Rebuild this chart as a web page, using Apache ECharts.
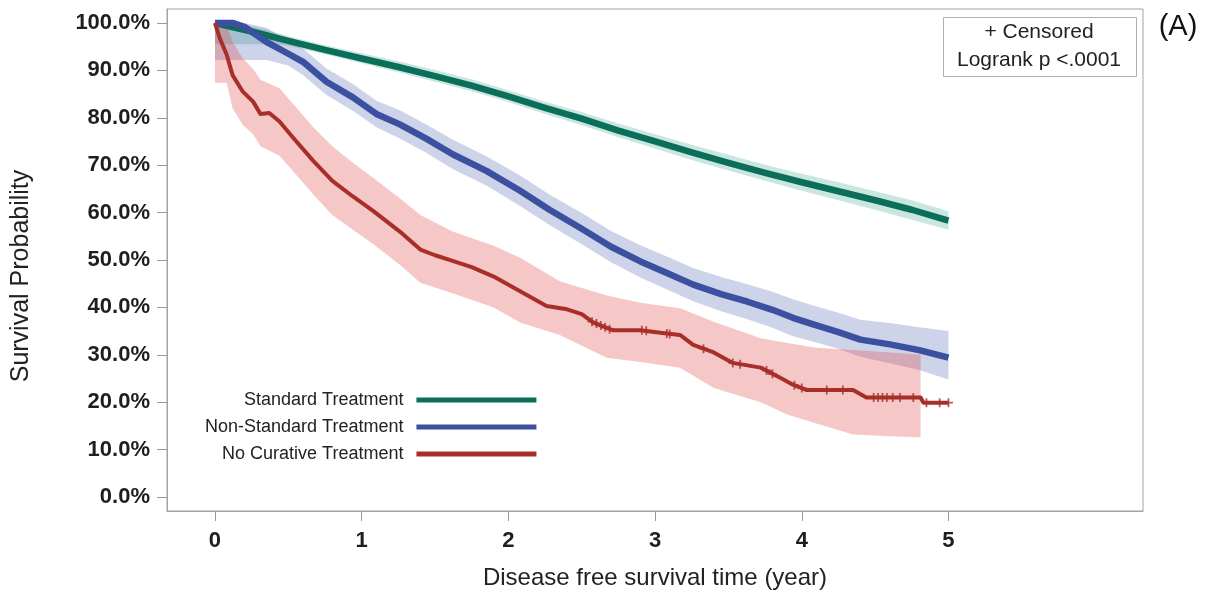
<!DOCTYPE html>
<html><head><meta charset="utf-8">
<script src="https://cdn.jsdelivr.net/npm/echarts@6/dist/echarts.min.js"></script>
<style>html,body{margin:0;padding:0;background:#fff}#c{width:1209px;height:595px}</style>
</head><body><div id="c"></div>
<script>
// ---- data ----
const seriesNames = ['Standard Treatment', 'Non-Standard Treatment', 'No Curative Treatment'];
const xTicks = [0, 1, 2, 3, 4, 5];
const yTicks = [0, 10, 20, 30, 40, 50, 60, 70, 80, 90, 100];

// Standard Treatment
const stdT  = [0, 0.05, 0.25, 0.35, 0.5, 0.75, 1, 1.25, 1.5, 1.75, 2, 2.25, 2.5, 2.75, 3, 3.25, 3.5, 3.75, 4, 4.25, 4.5, 4.75, 5];
const stdS  = [100, 99.6, 98.2, 97.4, 96.2, 94.3, 92.5, 90.7, 88.8, 86.8, 84.5, 82.1, 79.8, 77.3, 75, 72.7, 70.5, 68.4, 66.4, 64.5, 62.6, 60.6, 58.3];
const stdLo = [95.5, 95.5, 95.5, 95.5, 95.2, 93.4, 91.5, 89.6, 87.6, 85.6, 83.3, 80.8, 78.4, 75.9, 73.5, 71.1, 68.9, 66.7, 64.6, 62.6, 60.6, 58.5, 56.4];
const stdHi = [100, 100, 99.3, 98.6, 97.2, 95.3, 93.6, 91.9, 90.1, 88.1, 85.8, 83.4, 81.2, 78.8, 76.5, 74.3, 72.2, 70.1, 68.2, 66.4, 64.5, 62.6, 60.3];

// Non-Standard Treatment
const nstT  = [0, 0.12, 0.2, 0.35, 0.5, 0.6, 0.76, 0.94, 1.1, 1.26, 1.44, 1.62, 1.85, 2.08, 2.28, 2.5, 2.7, 2.9, 3.1, 3.26, 3.45, 3.63, 3.8, 3.94, 4.1, 4.25, 4.4, 4.6, 4.8, 5.0];
const nstS  = [100, 100, 99.2, 96, 93.5, 91.8, 87.6, 84.3, 80.8, 78.6, 75.6, 72.3, 68.8, 64.6, 60.6, 56.6, 52.8, 49.7, 47, 44.8, 42.8, 41.2, 39.5, 37.8, 36.2, 34.8, 33.2, 32.2, 31, 29.4];
const nstLo = [92.2, 92.2, 92.2, 92.2, 91, 89, 84.8, 81.5, 78, 75.6, 72.6, 69.2, 65.7, 61.4, 57.4, 53.3, 49.5, 46.3, 43.5, 41.3, 39.2, 37.5, 35.7, 33.9, 32.6, 31.3, 29.6, 28.2, 26.8, 24.8];
const nstHi = [100, 100, 100, 99, 96.2, 94.6, 90.4, 87.1, 83.6, 81.6, 78.6, 75.4, 71.9, 67.8, 63.8, 59.9, 56.1, 53.1, 50.5, 48.3, 46.4, 44.9, 43.3, 41.7, 40.2, 38.9, 37.4, 36.7, 35.8, 35];

// No Curative Treatment
const ncT = [0, 0.03, 0.08, 0.12, 0.19, 0.26, 0.31, 0.37, 0.44, 0.53, 0.67, 0.8, 0.94, 1.08, 1.26, 1.4, 1.5, 1.62, 1.75, 1.9, 2.08, 2.26, 2.4, 2.5, 2.58, 2.71, 2.9, 3.05, 3.17, 3.26, 3.4, 3.53, 3.72, 3.85, 3.94, 4.03, 4.2, 4.35, 4.44, 4.6, 4.81, 4.83, 5.0];
const ncS = [100, 97, 93.3, 89, 85.5, 83.4, 80.8, 81, 79.2, 75.9, 70.9, 66.7, 63.4, 60.3, 56, 52.2, 51, 49.8, 48.5, 46.5, 43.4, 40.3, 39.6, 38.6, 36.8, 35.2, 35.2, 34.6, 34.2, 32.1, 30.5, 28.3, 27.3, 25.2, 23.7, 22.6, 22.6, 22.6, 21, 21, 21, 19.9, 19.9];
const ncBandT = [0, 0.08, 0.12, 0.19, 0.26, 0.31, 0.44, 0.53, 0.67, 0.8, 0.94, 1.08, 1.26, 1.4, 1.62, 1.9, 2.08, 2.35, 2.67, 2.9, 3.17, 3.4, 3.72, 3.9, 4.1, 4.35, 4.6, 4.81];
const ncHi = [100, 99.5, 96, 92.5, 90.3, 88, 86.2, 83, 78, 74, 70.5, 67.3, 63, 59.5, 56, 53, 50.5, 45.5, 42.5, 41, 39.8, 37, 33.5, 32.5, 31.5, 31, 30.5, 30];
const ncLo = [87.4, 87.4, 82, 78.5, 76.5, 74, 72, 68.8, 63.8, 59.5, 56.4, 53.3, 49, 45.2, 43, 40, 36.8, 34.2, 29.4, 28.5, 27.3, 23, 20, 17.4, 15.5, 13.2, 12.8, 12.6];
// censored observations (No Curative Treatment), late follow-up
const ncCensT = [2.57, 2.6, 2.63, 2.66, 2.69, 2.91, 2.94, 3.08, 3.1, 3.33, 3.53, 3.58, 3.76, 3.8, 3.95, 4.0, 4.17, 4.28, 4.49, 4.52, 4.55, 4.58, 4.62, 4.67, 4.76, 4.85, 4.94, 5.0];
const ncCensS = [37.0, 36.6, 36.2, 35.8, 35.4, 35.2, 35.1, 34.5, 34.4, 31.3, 28.3, 28.0, 26.7, 26.0, 23.6, 23.0, 22.6, 22.6, 21, 21, 21, 21, 21, 21, 21, 19.9, 19.9, 19.9];

// ---- chart ----
const colors = ['#0b6e5a', '#3c50a0', '#a82f29'];
const bandColors = ['rgba(0,140,110,0.21)', 'rgba(60,85,165,0.26)', 'rgba(225,70,70,0.30)'];
const plus = 'path://M4,0L6,0L6,4L10,4L10,6L6,6L6,10L4,10L4,6L0,6L0,4L4,4Z';
const FONT = 'Liberation Sans, Arial, sans-serif';

function pairs(T, S) { return T.map((t, i) => [t, S[i]]); }
function band(name, T, lo, hi, color) {
  return {
    type: 'custom', name: name, silent: true, z: 1, data: [[T[0], hi[0]]],
    renderItem: function (params, api) {
      const pts = [];
      for (let i = 0; i < T.length; i++) pts.push(api.coord([T[i], hi[i]]));
      for (let i = T.length - 1; i >= 0; i--) pts.push(api.coord([T[i], lo[i]]));
      return { type: 'polygon', shape: { points: pts }, style: { fill: color } };
    }
  };
}
function line(name, T, S, color, w) {
  return {
    type: 'line', name: name, z: 3, data: pairs(T, S), color: color,
    showSymbol: false, symbol: 'none', lineStyle: { color: color, width: w, join: 'round' }
  };
}

const chart = echarts.init(document.getElementById('c'), null, { renderer: 'canvas' });
chart.setOption({
  animation: false,
  backgroundColor: '#fff',
  grid: { left: 167, right: 66, top: 9, bottom: 81, show: true, borderColor: '#a3a3a3', borderWidth: 1, containLabel: false },
  xAxis: {
    type: 'value', min: -0.327, max: 6.326,
    name: 'Disease free survival time (year)', nameLocation: 'middle', nameGap: 55,
    nameTextStyle: { fontFamily: FONT, fontSize: 24, color: '#222' },
    axisLine: { show: true, onZero: false, lineStyle: { color: '#a3a3a3' } },
    axisTick: { show: true, length: 10, customValues: xTicks, lineStyle: { color: '#999' } },
    axisLabel: { customValues: xTicks, margin: 19, fontFamily: FONT, fontSize: 22, fontWeight: 'bold', color: '#1e1e1e' },
    splitLine: { show: false }
  },
  yAxis: {
    type: 'value', min: -2.94, max: 102.94,
    name: 'Survival Probability', nameLocation: 'middle', nameGap: 133, nameRotate: 90,
    nameTextStyle: { fontFamily: FONT, fontSize: 25, color: '#222', padding: [0, 32, 0, 0] },
    axisLine: { show: true, onZero: false, lineStyle: { color: '#a3a3a3' } },
    axisTick: { show: true, length: 10, customValues: yTicks, lineStyle: { color: '#999' } },
    axisLabel: { customValues: yTicks, margin: 17, fontFamily: FONT, fontSize: 22, fontWeight: 'bold', color: '#1e1e1e',
      formatter: v => v.toFixed(1) + '%' },
    splitLine: { show: false }
  },
  legend: {
    data: seriesNames, orient: 'vertical', align: 'right', left: 200, top: 386,
    icon: 'rect', itemWidth: 120, itemHeight: 5, itemGap: 9,
    textStyle: { fontFamily: FONT, fontSize: 18, color: '#222', padding: [0, 8, 0, 0], lineHeight: 18 },
    selectedMode: false
  },
  series: [
    band('band0', stdT, stdLo, stdHi, bandColors[0]),
    band('band1', nstT, nstLo, nstHi, bandColors[1]),
    band('band2', ncBandT, ncLo, ncHi, bandColors[2]),
    line(seriesNames[0], stdT, stdS, colors[0], 6.5),
    line(seriesNames[1], nstT, nstS, colors[1], 6.5),
    line(seriesNames[2], ncT, ncS, colors[2], 4),
    { type: 'scatter', name: 'censor', z: 4, data: pairs(ncCensT, ncCensS), symbol: plus, symbolSize: 9,
      itemStyle: { color: colors[2] }, silent: true }
  ],
  graphic: [
    { type: 'rect', left: 943, top: 17, shape: { width: 193, height: 59 }, style: { fill: '#fff', stroke: '#b0b0b0', lineWidth: 1 }, z: 10 },
    { type: 'text', x: 1039, y: 32, style: { text: '+ Censored', fontFamily: FONT, fontSize: 21, fill: '#222', align: 'center', verticalAlign: 'middle' }, z: 11 },
    { type: 'text', x: 1039, y: 60, style: { text: 'Logrank p <.0001', fontFamily: FONT, fontSize: 21, fill: '#222', align: 'center', verticalAlign: 'middle' }, z: 11 },
    { type: 'text', x: 1178, y: 27, style: { text: '(A)', fontFamily: FONT, fontSize: 29, fill: '#111', align: 'center', verticalAlign: 'middle' }, z: 11 }
  ]
});
</script>
</body></html>
